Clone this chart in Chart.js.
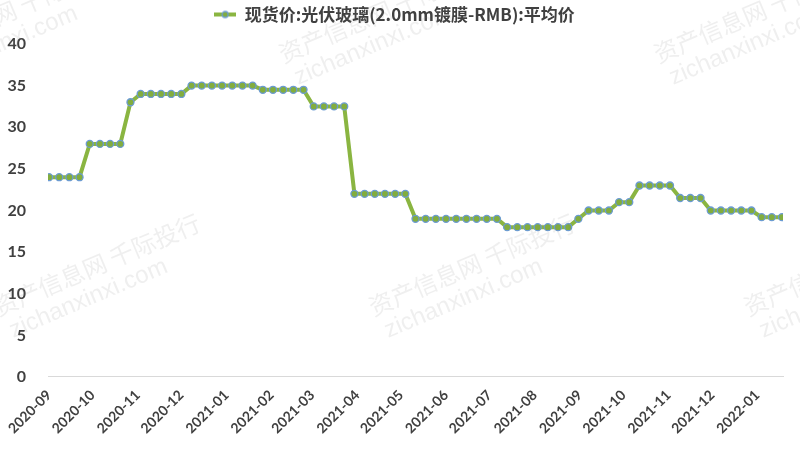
<!DOCTYPE html>
<html>
<head>
<meta charset="utf-8">
<script src="https://cdn.jsdelivr.net/npm/chart.js@4"></script>
<style>
  html, body { margin: 0; padding: 0; background: #fff; }
  #wrap { width: 800px; height: 450px; position: relative; }
</style>
</head>
<body>
<div id="wrap"><canvas id="glassChart"></canvas></div>
<script>
// weekly quotes, first one on 2020-09-01
const seriesName = '现货价:光伏玻璃(2.0mm镀膜-RMB):平均价';
const firstWeek = [2020, 9, 1];
const priceValues = [
  24, 24, 24, 24, 28, 28, 28, 28, 33, 34,
  34, 34, 34, 34, 35, 35, 35, 35, 35, 35,
  35, 34.5, 34.5, 34.5, 34.5, 34.5, 32.5, 32.5, 32.5, 32.5,
  22, 22, 22, 22, 22, 22, 19, 19, 19, 19,
  19, 19, 19, 19, 19, 18, 18, 18, 18, 18,
  18, 18, 19, 20, 20, 20, 21, 21, 23, 23,
  23, 23, 21.5, 21.5, 21.5, 20, 20, 20, 20, 20,
  19.2, 19.2, 19.2
];
const monthLabels = [
  '2020-09', '2020-10', '2020-11', '2020-12', '2021-01', '2021-02',
  '2021-03', '2021-04', '2021-05', '2021-06', '2021-07', '2021-08',
  '2021-09', '2021-10', '2021-11', '2021-12', '2022-01'
];
const yTicks = [0, 5, 10, 15, 20, 25, 30, 35, 40];

const WEEK = 7 * 86400000;
const start = Date.UTC(firstWeek[0], firstWeek[1] - 1, firstWeek[2]);
// month starts expressed in weeks since the first quote
const monthPos = monthLabels.map(m => {
  const [y, mo] = m.split('-').map(Number);
  return (Date.UTC(y, mo - 1, 1) - start) / WEEK;
});

const lineColor = '#8ab541';
const dotColor = '#82ad3e';
const ringColor = '#6b9bd3';

// legend icon: short line with a dot
const icon = document.createElement('canvas');
icon.width = 22; icon.height = 10;
(function(){
  const c = icon.getContext('2d');
  c.strokeStyle = lineColor; c.lineWidth = 4;
  c.beginPath(); c.moveTo(0, 5); c.lineTo(22, 5); c.stroke();
  c.fillStyle = dotColor; c.strokeStyle = ringColor; c.lineWidth = 1.3;
  c.beginPath(); c.arc(11, 5, 3, 0, Math.PI * 2); c.fill(); c.stroke();
})();

// legend sits at the very top, plot starts at y=44
const legendSpacer = {
  id: 'legendSpacer',
  beforeInit(chart) {
    const fit = chart.legend.fit;
    chart.legend.fit = function() { fit.call(this); this.height = 44; };
  }
};

const watermark = {
  id: 'watermark',
  afterDraw(chart) {
    const ctx = chart.ctx;
    const rows = [[-95, 55], [-5, 308], [-185, -195], [85, 560]];
    ctx.save();
    ctx.fillStyle = 'rgba(120,120,120,0.12)';
    rows.forEach(([x0, y0]) => {
      for (let k = -1; k < 4; k++) {
        ctx.save();
        ctx.translate(x0 + k * 375, y0);
        ctx.rotate(-23 * Math.PI / 180);
        ctx.font = '24px "Noto Sans CJK SC"';
        ctx.fillText('资产信息网 千际投行', 0, 0);
        ctx.font = '24px "Liberation Sans"';
        ctx.fillText('zichanxinxi.com', 5, 28);
        ctx.restore();
      }
    });
    ctx.restore();
  }
};

new Chart(document.getElementById('glassChart'), {
  type: 'line',
  data: {
    datasets: [{
      label: seriesName,
      data: priceValues.map((v, i) => ({ x: i, y: v })),
      borderColor: lineColor,
      borderWidth: 4,
      backgroundColor: dotColor,
      pointBackgroundColor: dotColor,
      pointBorderColor: ringColor,
      pointBorderWidth: 1.3,
      pointRadius: 3.5,
      pointStyle: 'circle',
      tension: 0,
      fill: false
    }]
  },
  options: {
    responsive: true,
    maintainAspectRatio: false,
    animation: false,
    layout: { padding: { left: 6, right: 17, top: 0, bottom: 3 } },
    plugins: {
      legend: {
        display: true,
        position: 'top',
        labels: {
          usePointStyle: true,
          pointStyle: icon,
          pointStyleWidth: 22,
          color: '#404040',
          font: { family: '"Noto Sans CJK SC"', size: 17, weight: 'bold' },
          padding: 6
        }
      },
      tooltip: { enabled: false }
    },
    scales: {
      x: {
        type: 'linear',
        min: -0.1,
        max: 72.1,
        grid: { display: false, drawTicks: false },
        border: { display: true, color: '#d9d9d9', width: 1 },
        afterBuildTicks: scale => { scale.ticks = monthPos.map(v => ({ value: v })); },
        // keep the rotated first label from pushing the plot to the right
        afterFit: scale => { scale.paddingLeft = 0; scale.paddingRight = 0; },
        ticks: {
          autoSkip: false,
          minRotation: 45,
          maxRotation: 45,
          padding: 10,
          color: '#404040',
          font: { family: 'Lato', size: 14, weight: 'bold' },
          callback: (v, i) => monthLabels[i]
        }
      },
      y: {
        min: 0,
        max: 40,
        grid: { display: false, drawTicks: false },
        border: { display: false },
        afterBuildTicks: scale => { scale.ticks = yTicks.map(v => ({ value: v })); },
        afterFit: scale => { scale.width = 42; },
        ticks: {
          padding: 22,
          color: '#404040',
          font: { family: 'Lato', size: 16, weight: 'bold' }
        }
      }
    }
  },
  plugins: [legendSpacer, watermark]
});
</script>
</body>
</html>
